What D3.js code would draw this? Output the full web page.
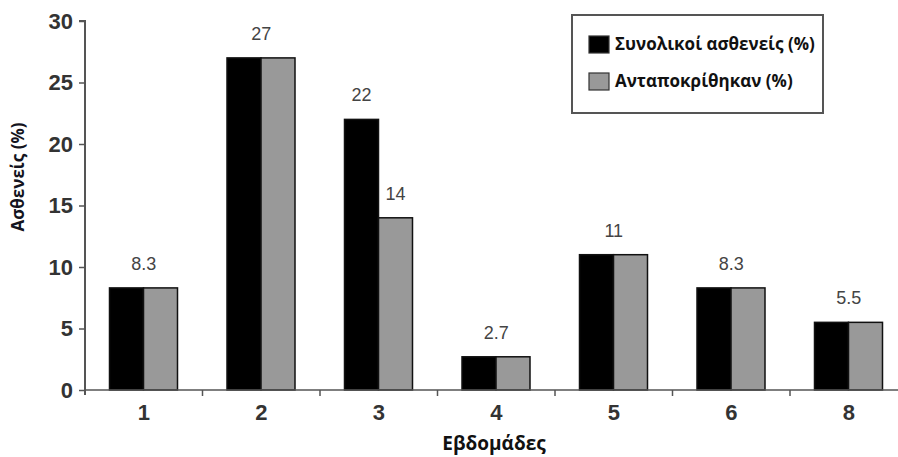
<!DOCTYPE html>
<html><head><meta charset="utf-8">
<script src="https://cdn.jsdelivr.net/npm/d3@7"></script>
<style>body{margin:0;background:#fff}svg{display:block}</style>
</head><body>
<svg id="c" width="898" height="457"></svg>
<script>
const categories = ["1","2","3","4","5","6","8"];
const totalPatients = [8.3, 27, 22, 2.7, 11, 8.3, 5.5];
const responded = [8.3, 27, 14, 2.7, 11, 8.3, 5.5];
const seriesNames = ["Συνολικοί ασθενείς (%)", "Ανταποκρίθηκαν (%)"];
const yTicks = [0,5,10,15,20,25,30];
const yTitle = "Ασθενείς (%)";
const xTitle = "Εβδομάδες";

const svg = d3.select("#c");
const x0 = 85, bandW = 117.5;
const x = d3.scaleBand().domain(categories).range([x0, x0 + bandW*categories.length]).paddingInner(0).paddingOuter(0);
const y = d3.scaleLinear().domain([0,30]).range([390,21]);
const xs = d3.scaleBand().domain([0,1]).range([24.5, 92.5]).padding(0);
const colors = ["#000000", "#999999"];
const num = "Liberation Sans, Arial, sans-serif";

// bars
const data = categories.map((c,i)=>({c, vals:[totalPatients[i], responded[i]]}));
const g = svg.append("g");
data.forEach(d=>{
  d.vals.forEach((v,k)=>{
    g.append("rect")
      .attr("x", x(d.c)+xs(k))
      .attr("y", y(v))
      .attr("width", xs.bandwidth())
      .attr("height", y(0)-y(v))
      .attr("fill", colors[k])
      .attr("stroke", "#111").attr("stroke-width", 1.5);
  });
});

// value labels
data.forEach(d=>{
  const [a,b] = d.vals;
  const items = a === b ? [[x(d.c)+x.bandwidth()/2, a]] :
    d.vals.map((v,k)=>[x(d.c)+xs(k)+xs.bandwidth()/2, v]);
  items.forEach(([cx,v])=>{
    svg.append("text").attr("x", cx).attr("y", y(v)-18)
      .attr("text-anchor","middle").attr("font-family",num)
      .attr("font-size",18).attr("fill","#444").text(v);
  });
});

// y axis
const yAxis = svg.append("g").attr("transform",`translate(${x0},0)`)
  .call(d3.axisLeft(y).tickValues(yTicks).tickSize(6).tickPadding(6));
yAxis.select(".domain").attr("stroke","#555").attr("stroke-width",2).attr("d", `M-6,${y(30)}H0V${y(0)+5}`);
yAxis.selectAll(".tick line").attr("stroke","#555").attr("stroke-width",1.5);
yAxis.selectAll("text").attr("font-family",num).attr("font-size",22)
  .attr("font-weight","bold").attr("fill","#333");

// x axis
const xAxis = svg.append("g").attr("transform",`translate(0,${y(0)})`)
  .call(d3.axisBottom(x).tickSize(0).tickPadding(14));
xAxis.select(".domain").attr("stroke","#555").attr("stroke-width",1.5).attr("d", `M${x0},0H898`);
xAxis.selectAll("text").attr("font-family",num).attr("font-size",22)
  .attr("font-weight","bold").attr("fill","#333");
categories.forEach((c,i)=>{
  if (i===0) return;
  svg.append("line").attr("x1", x(c)).attr("x2", x(c)).attr("y1", y(0)).attr("y2", y(0)+6)
    .attr("stroke","#555").attr("stroke-width",1.5);
});

// titles
svg.append("text").attr("transform",`translate(24,177) rotate(-90)`).attr("text-anchor","middle")
  .attr("font-family","Open Sans, sans-serif").attr("font-weight","bold").attr("font-size",17)
  .attr("fill","#141420").text(yTitle);
svg.append("text").attr("x",494).attr("y",450).attr("text-anchor","middle")
  .attr("font-family","Open Sans, sans-serif").attr("font-weight","bold").attr("font-size",19)
  .attr("fill","#111").text(xTitle);

// legend
const lg = svg.append("g");
lg.append("rect").attr("x",572).attr("y",15).attr("width",251).attr("height",98)
  .attr("fill","#fff").attr("stroke","#555").attr("stroke-width",2);
seriesNames.forEach((n,k)=>{
  const yy = 36 + k*37;
  lg.append("rect").attr("x",589).attr("y",yy).attr("width",20).attr("height",17)
    .attr("fill",colors[k]).attr("stroke","#333").attr("stroke-width",1.2);
  lg.append("text").attr("x",615).attr("y",yy+14).attr("font-family","Open Sans, sans-serif")
    .attr("font-weight","bold").attr("font-size",17).attr("fill","#111").text(n);
});
</script>
</body></html>
